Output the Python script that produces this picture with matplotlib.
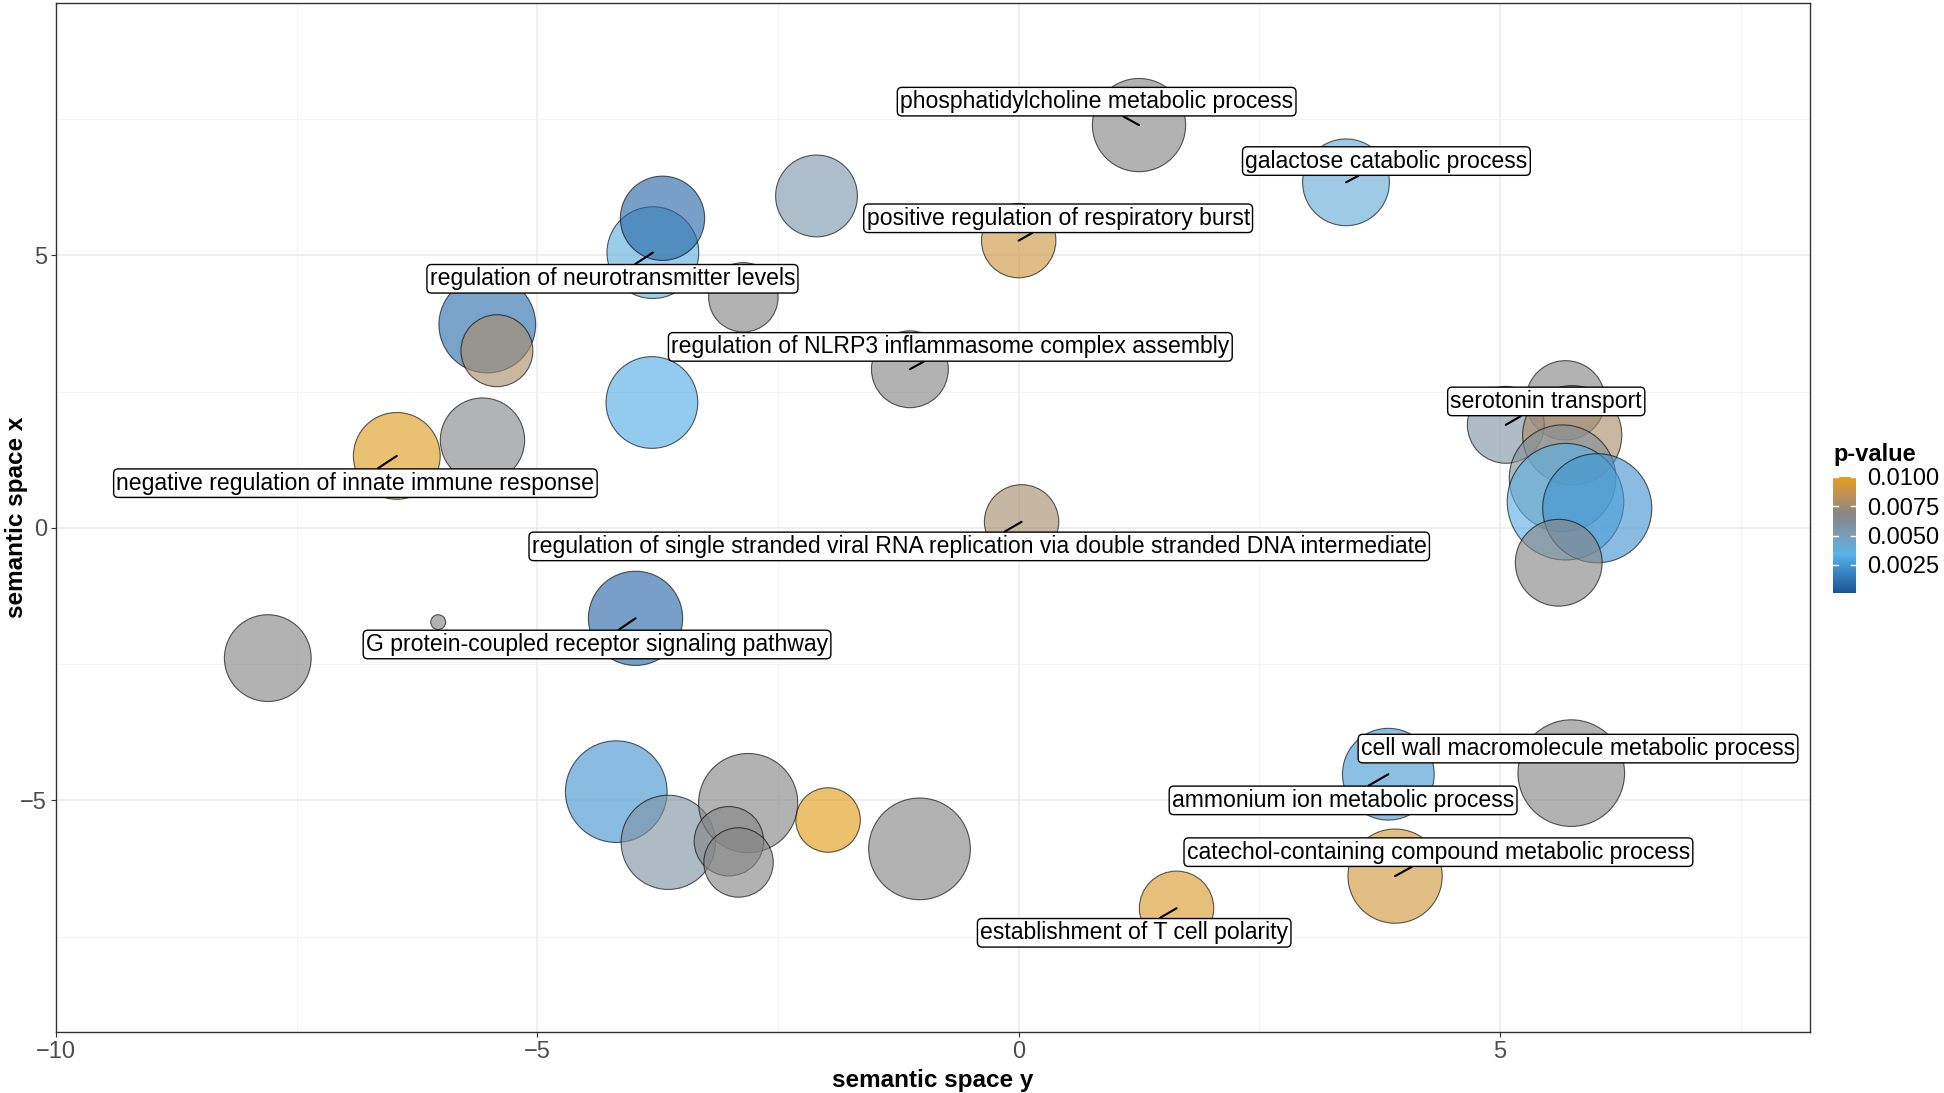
import numpy as np
import matplotlib.pyplot as plt
from matplotlib.colors import ListedColormap, Normalize, to_rgb

plt.rcParams['font.family'] = ['Liberation Sans', 'DejaVu Sans']

# coordenadas semanticas (REVIGO)
plot_x = [1.25, 3.40, -2.10, 0.00, -3.80, -3.70, -2.86, -5.52, -5.42, -1.13,
          -3.81, -5.57, -6.46, 0.03, -6.03, -7.80, -3.98, -4.18, -3.64, -2.81,
          -3.01, -2.91, -1.98, -1.03, 1.64, 3.91, 3.84, 5.74, 5.68, 5.06,
          5.75, 5.65, 5.68, 6.01, 5.61]
plot_y = [7.39, 6.34, 6.09, 5.27, 5.05, 5.68, 4.23, 3.73, 3.25, 2.91,
          2.30, 1.61, 1.32, 0.11, -1.73, -2.39, -1.66, -4.84, -5.77, -5.05,
          -5.75, -6.14, -5.36, -5.89, -6.98, -6.39, -4.52, -4.50, 2.34, 1.89,
          1.70, 0.91, 0.48, 0.36, -0.64]
log_size = [3.76, 3.5, 3.3, 3.0, 3.7, 3.4, 2.8, 3.9, 2.9, 3.1,
            3.7, 3.4, 3.5, 3.0, 0.6, 3.5, 3.8, 4.1, 3.8, 4.0,
            2.8, 2.8, 2.6, 4.1, 3.0, 3.8, 3.7, 4.3, 3.2, 3.1,
            4.0, 4.3, 4.7, 4.4, 3.5]
p_value = [0.0067, 0.0040, 0.0054, 0.0090, 0.0037, 0.0008, 0.0067, 0.0010, 0.0077, 0.0067,
           0.0032, 0.0066, 0.0097, 0.0076, 0.0067, 0.0067, 0.0008, 0.0024, 0.0057, 0.0067,
           0.0067, 0.0067, 0.0098, 0.0067, 0.0094, 0.0091, 0.0026, 0.0067, 0.0067, 0.0056,
           0.0077, 0.0060, 0.0036, 0.0024, 0.0067]

# etiquetas
label_text = ["phosphatidylcholine metabolic process",
              "galactose catabolic process",
              "positive regulation of respiratory burst",
              "regulation of neurotransmitter levels",
              "regulation of NLRP3 inflammasome complex assembly",
              "serotonin transport",
              "negative regulation of innate immune response",
              "regulation of single stranded viral RNA replication via double stranded DNA intermediate",
              "G protein-coupled receptor signaling pathway",
              "cell wall macromolecule metabolic process",
              "ammonium ion metabolic process",
              "catechol-containing compound metabolic process",
              "establishment of T cell polarity"]
label_point = [0, 1, 3, 4, 9, 29, 12, 13, 16, 27, 26, 25, 24]
label_x = [0.81, 3.82, 0.41, -4.22, -0.71, 5.48, -6.89, -0.41, -4.38, 5.81, 3.37, 4.36, 1.20]
label_y = [7.82, 6.73, 5.68, 4.57, 3.32, 2.32, 0.82, -0.34, -2.14, -4.05, -5.00, -5.95, -7.43]

p_min, p_max = 0.0001, 0.0100
grad_colours = ["#195596", "#56B4E9", "#868686", "#E69F00"]


# interpolacion en espacio Lab (como ggplot)
def to_lab(c):
    rgb = np.array(to_rgb(c))
    lin = np.where(rgb <= 0.04045, rgb / 12.92, ((rgb + 0.055) / 1.055) ** 2.4)
    M = np.array([[0.4124, 0.3576, 0.1805], [0.2126, 0.7152, 0.0722], [0.0193, 0.1192, 0.9505]])
    xyz = M @ lin / np.array([0.95047, 1.0, 1.08883])
    f = np.where(xyz > 0.008856, np.cbrt(xyz), 7.787 * xyz + 16 / 116)
    return np.array([116 * f[1] - 16, 500 * (f[0] - f[1]), 200 * (f[1] - f[2])])


def from_lab(lab):
    fy = (lab[0] + 16) / 116
    fx = fy + lab[1] / 500
    fz = fy - lab[2] / 200
    f = np.array([fx, fy, fz])
    xyz = np.where(f ** 3 > 0.008856, f ** 3, (f - 16 / 116) / 7.787) * np.array([0.95047, 1.0, 1.08883])
    Minv = np.array([[3.2406, -1.5372, -0.4986], [-0.9689, 1.8758, 0.0415], [0.0557, -0.2040, 1.0570]])
    lin = Minv @ xyz
    rgb = np.where(lin <= 0.0031308, 12.92 * lin, 1.055 * np.clip(lin, 0, None) ** (1 / 2.4) - 0.055)
    return np.clip(rgb, 0, 1)


labs = [to_lab(c) for c in grad_colours]
cols = []
for v in np.linspace(0, 1, 256):
    seg = min(int(v * 3), 2)
    t = v * 3 - seg
    cols.append(from_lab(labs[seg] * (1 - t) + labs[seg + 1] * t))
cmap = ListedColormap(cols)
norm = Normalize(vmin=p_min, vmax=p_max)

fig = plt.figure(figsize=(19.44, 10.93), dpi=100)
ax = fig.add_axes([56/1944, 1 - 1032/1093, (1810 - 56)/1944, (1032 - 3)/1093])

# radio en px -> diametro en puntos
diam_pt = np.array(log_size) * 12.4 * 2 * 72 / 100
ax.scatter(plot_x, plot_y, s=diam_pt**2, c=p_value, cmap=cmap, norm=norm,
           alpha=0.63, edgecolors="black", linewidths=0.8, zorder=3)

for txt, i, lx, ly in zip(label_text, label_point, label_x, label_y):
    arrow = dict(arrowstyle="-", color="black", lw=1.5, shrinkA=0, shrinkB=0)
    if txt.startswith("cell wall"):
        arrow = None
    ax.annotate(txt, xy=(plot_x[i], plot_y[i]), xytext=(lx, ly),
                ha="center", va="center", fontsize=16.6, color="black",
                bbox=dict(boxstyle="round,pad=0.12,rounding_size=0.2", fc="white", ec="black", lw=1),
                arrowprops=arrow, zorder=5)

ax.set_xlim(-10, 8.22)
ax.set_ylim(-9.25, 9.63)
ax.set_xticks([-10, -5, 0, 5])
ax.set_yticks([-5, 0, 5])
ax.set_xticks([-7.5, -2.5, 2.5, 7.5], minor=True)
ax.set_yticks([-7.5, -2.5, 2.5, 7.5], minor=True)
ax.grid(which="major", color="#EBEBEB", lw=1.1, zorder=0)
ax.grid(which="minor", color="#F3F3F3", lw=0.6, zorder=0)
ax.set_axisbelow(True)
ax.tick_params(which="major", length=3.5, width=0.8, color="#333333",
               labelcolor="#4D4D4D", labelsize=17, pad=3)
ax.tick_params(which="minor", length=0)
for sp in ax.spines.values():
    sp.set_color("#333333")
    sp.set_linewidth(1.0)

ax.set_xlabel("semantic space y", fontsize=17.5, fontweight="bold", va="center")
ax.set_ylabel("semantic space x", fontsize=17.5, fontweight="bold", va="center")
ax.xaxis.set_label_coords(0.5, (1032 - 1080) / 1029)
ax.yaxis.set_label_coords((17 - 56) / 1754, 0.5)

# leyenda de color
cax = fig.add_axes([1833/1944, 1 - 593/1093, 23/1944, 116/1093])
grad = np.linspace(p_min, p_max, 300).reshape(-1, 1)
cax.imshow(grad, aspect="auto", cmap=cmap, norm=norm, origin="lower",
           extent=[0, 1, p_min, p_max])
cax.set_xlim(0, 1)
cax.set_ylim(p_min, p_max)
cax.set_xticks([])
ticks = [0.0025, 0.0050, 0.0075, 0.0100]
cax.set_yticks(ticks)
cax.set_yticklabels(["%.4f" % t for t in ticks])
cax.yaxis.tick_right()
cax.tick_params(axis="y", length=0, labelsize=17, labelcolor="black", pad=8)
for t in ticks:
    cax.plot([0, 0.2], [t, t], color="white", lw=1)
    cax.plot([0.8, 1], [t, t], color="white", lw=1)
for sp in cax.spines.values():
    sp.set_visible(False)
fig.text(1833/1944, 1 - 455/1093, "p-value", fontsize=17, fontweight="bold",
         ha="left", va="center")

fig.savefig("out.png", dpi=100)
